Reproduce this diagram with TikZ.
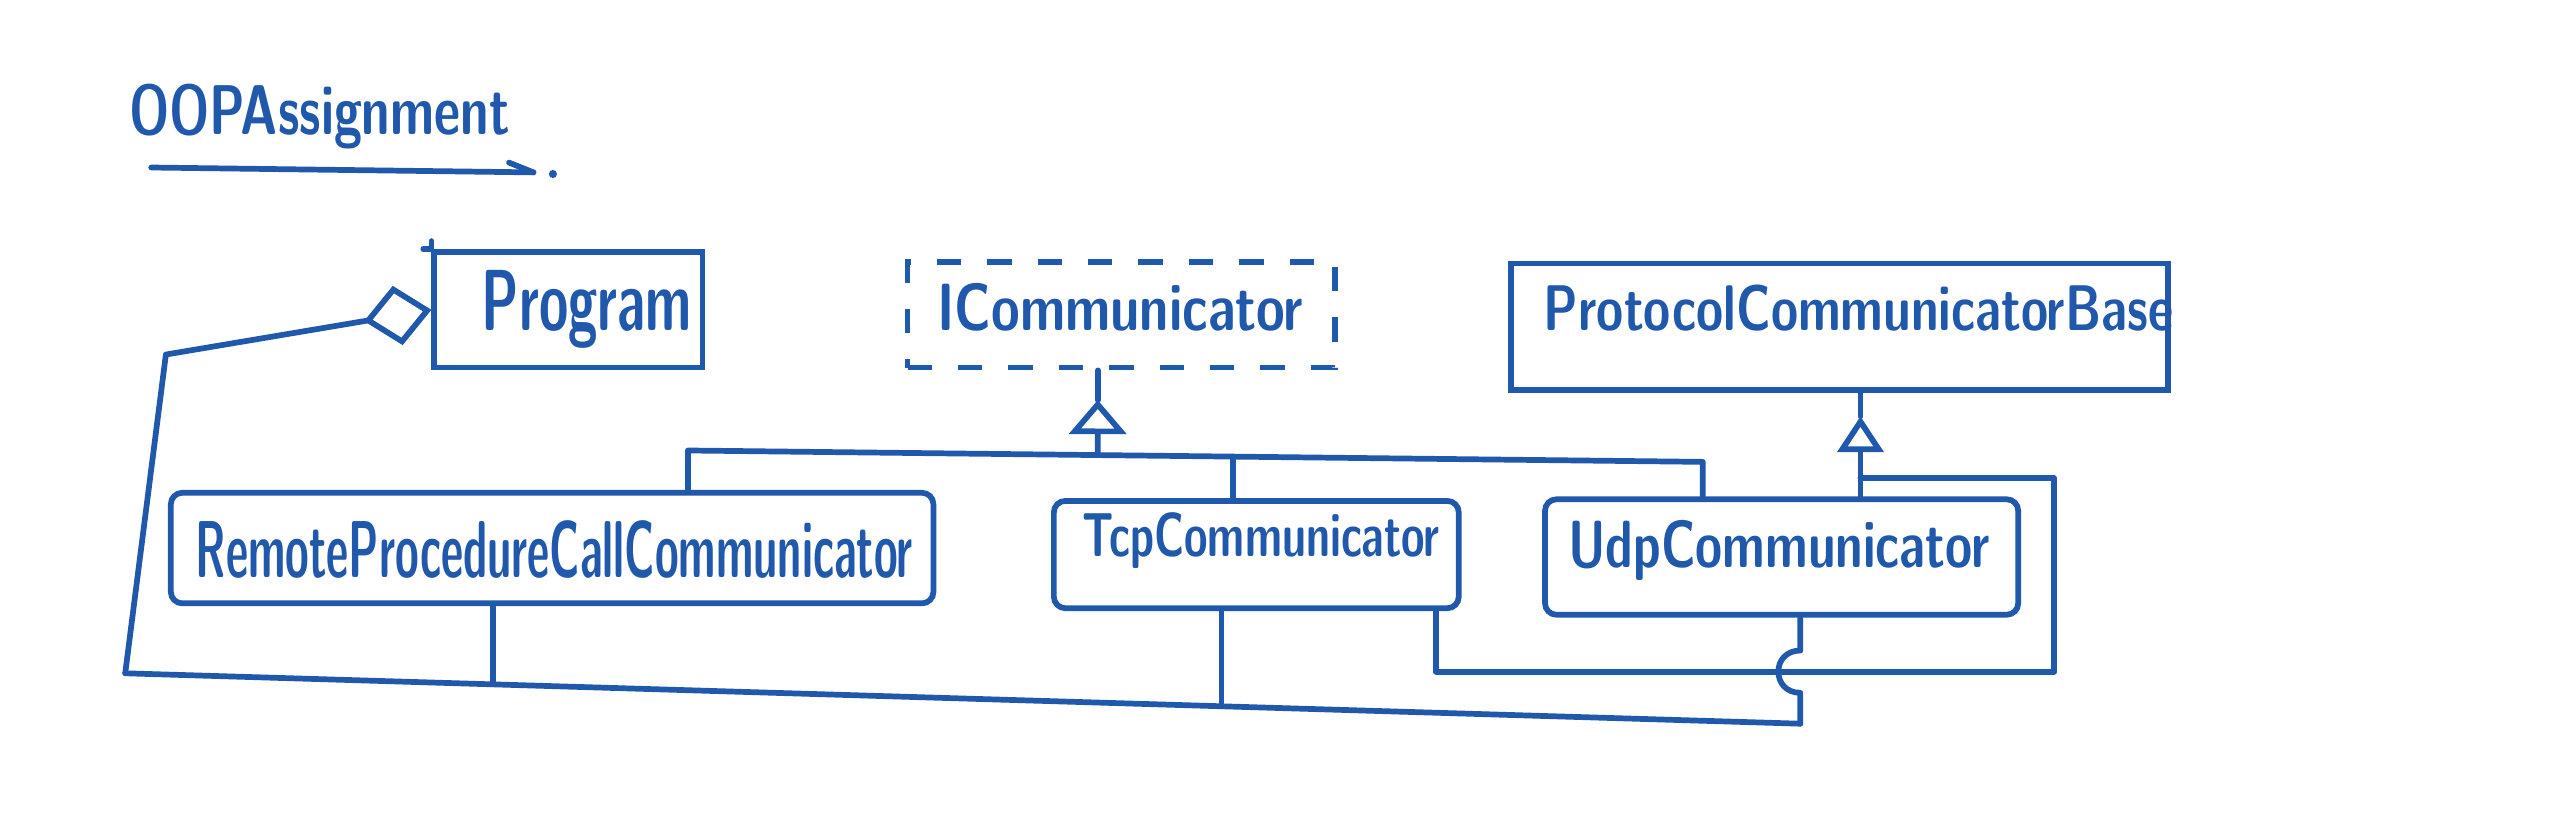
\documentclass[tikz,border=0pt]{standalone}
\usetikzlibrary{arrows.meta,calc}
\definecolor{ink}{RGB}{32,88,172}
\newcommand{\hwtext}[3]{\resizebox{#1}{#2}{\sffamily\bfseries #3}}
\begin{document}
\begin{tikzpicture}[x=0.02cm, y=-0.02cm, color=ink,
  box/.style={draw, rectangle, line width=2pt, inner sep=0pt},
  rbox/.style={box, rounded corners=4pt},
  dbox/.style={box, dash pattern=on 0.3cm off 0.32cm},
  lbl/.style={anchor=base west, inner sep=0pt},
  wire/.style={line width=2pt, line join=round, line cap=round},
  inhA/.style={wire, -{Triangle[open, length=0.42cm, width=0.7cm]}},
  inhB/.style={wire, -{Triangle[open, length=0.44cm, width=0.56cm]}},
  aggr/.style={wire, -{Diamond[open, length=0.84cm, width=0.74cm]}}]
\useasboundingbox (0,0) rectangle (1568,514);
\fill[white] (0,0) rectangle (1568,514);

% title
\node[lbl] (title) at (79,83) {\hwtext{4.68cm}{0.62cm}{OOPAssignment}};
\draw[wire] (93,103) -- (328,106);
\draw[wire] (313,100) -- (328,106);
\fill (340,107) circle (0.05cm);

% class boxes
\node[box, minimum width=3.30cm, minimum height=1.42cm] (prog) at (349.5,190.5) {};
\node[dbox, minimum width=5.26cm, minimum height=1.30cm] (icomm) at (689.5,193.5) {};
\node[box, minimum width=8.08cm, minimum height=1.56cm] (pcb) at (1131,201) {};
\node[rbox, minimum width=9.38cm, minimum height=1.36cm] (rpc) at (339.5,337) {};
\node[rbox, minimum width=4.98cm, minimum height=1.32cm] (tcp) at (772.5,341) {};
\node[rbox, minimum width=5.82cm, minimum height=1.42cm] (udp) at (1095.5,342.5) {};
\draw[wire] ([xshift=-0.1cm]prog.north west) -- (prog.north west) -- ([yshift=0.1cm]prog.north west);

% labels
\node[lbl] (lprog) at (296,203) {\hwtext{2.58cm}{0.74cm}{Program}};
\node[lbl] (licomm) at (576,203) {\hwtext{4.5cm}{0.58cm}{ICommunicator}};
\node[lbl] (lpcb) at (949,203) {\hwtext{7.74cm}{0.56cm}{ProtocolCommunicatorBase}};
\node[lbl] (lrpc) at (120,355) {\hwtext{8.82cm}{0.70cm}{RemoteProcedureCallCommunicator}};
\node[lbl] (ltcp) at (665,342) {\hwtext{4.4cm}{0.54cm}{TcpCommunicator}};
\node[lbl] (ludp) at (964,349) {\hwtext{5.18cm}{0.58cm}{UdpCommunicator}};

% junction coordinates
\coordinate (bl) at (77,414);
\coordinate (br) at (1107,445);
\coordinate (agc) at (102,218);
\coordinate (tl) at (423,277);
\coordinate (tr) at (1047,284);
\coordinate (ia) at (675,246);
\coordinate (pa) at (1144,256);
\coordinate (lr) at (1263,294);
\coordinate (lb) at (1263,413);
\coordinate (tx) at (883,413);
\coordinate (jr) at ($(bl)!0.2194!(br)$);
\coordinate (jt) at ($(bl)!0.6544!(br)$);
\coordinate (jtc) at ($(tl)!0.537!(tr)$);
\coordinate (ji) at ($(tl)!0.4038!(tr)$);
\coordinate (hc) at (br |- lb);

% aggregation: Program <>-- communicators
\draw[aggr] (bl) -- (agc) -- (prog.west);
\draw[wire] (bl) -- (br);
\draw[wire] (jr) -- (jr |- rpc.south);
\draw[wire] (jt) -- (jt |- tcp.south);
\draw[wire] (br |- udp.south) -- ($(hc)+(0,-13)$) .. controls +(-18,0) and +(-18,0) .. ($(hc)+(0,13)$) -- (br);

% realisation of ICommunicator
\draw[wire] (tl |- rpc.north) -- (tl) -- (tr) -- (tr |- udp.north);
\draw[wire] (jtc) -- (jtc |- tcp.north);
\draw[inhA] (ji) -- (ia);
\draw[wire] (ia) -- (ia |- icomm.south);

% inheritance from ProtocolCommunicatorBase
\draw[inhB] (pa |- udp.north) -- (pa);
\draw[wire] (pa) -- (pa |- pcb.south);
\draw[wire] (pa |- lr) -- (lr) -- (lb) -- (tx) -- (tx |- tcp.south);
\end{tikzpicture}
\end{document}
